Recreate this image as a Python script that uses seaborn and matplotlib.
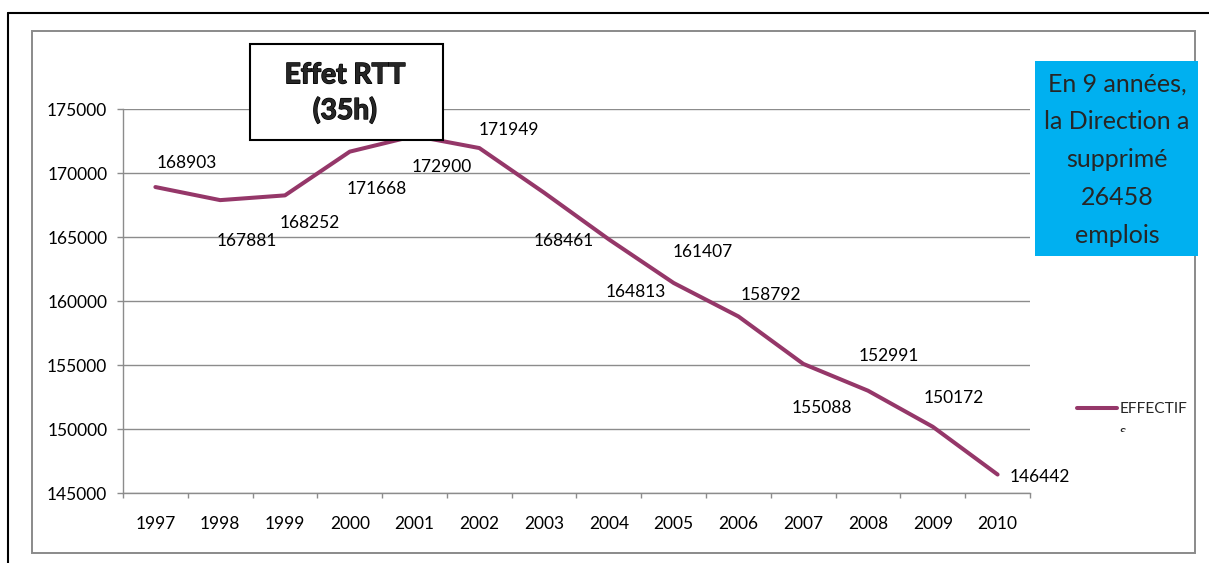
import numpy as np
import pandas as pd
import matplotlib
matplotlib.use("Agg")
import matplotlib.pyplot as plt
from matplotlib.patches import Rectangle
from matplotlib.lines import Line2D
from matplotlib.transforms import Bbox
import matplotlib.patheffects as pe
import seaborn as sns

# ---- data ----
years = ["1997", "1998", "1999", "2000", "2001", "2002", "2003",
         "2004", "2005", "2006", "2007", "2008", "2009", "2010"]
effectifs = [168903, 167881, 168252, 171668, 172900, 171949, 168461,
             164813, 161407, 158792, 155088, 152991, 150172, 146442]
y_ticks = [145000, 150000, 155000, 160000, 165000, 170000, 175000]
series_name = "EFFECTIF"
box_title = ["Effet RTT", "(35h)"]
box_note = ["En 9 années,", "la Direction a", "supprimé", "26458", "emplois"]

# label offsets (pixels: right, down to text centre)
label_offsets_px = [(31, -25), (27, 40), (25, 27), (27, 36), (27, 30), (30, -19),
                    (20, 47), (27, 52), (29, -32), (32, -22), (19, 43), (21, -36),
                    (21, -30), (42, 1)]

W, H = 1209, 563
sns.set_style("white")
plt.rcParams["font.family"] = ["Lato", "DejaVu Sans"]

fig = plt.figure(figsize=(W / 100, H / 100), dpi=100)
fig.patch.set_facecolor("white")

def fx(px):
    return px / W

def fy(py):
    return 1 - py / H

ax = fig.add_axes([fx(123), fy(493), fx(1030) - fx(123), fy(109) - fy(493)])

df = pd.DataFrame({"year": years, "value": effectifs, "idx": np.arange(len(years))})
line_color = "#953769"
sns.lineplot(data=df, x="idx", y="value", ax=ax, color=line_color, linewidth=2.9,
             label=series_name, zorder=3)

FS = 12.5
ax.set_xlim(-0.5, len(years) - 0.5)
ax.set_ylim(y_ticks[0], y_ticks[-1])
ax.set_yticks(y_ticks)
ax.set_yticklabels([str(t) for t in y_ticks])
ax.set_xticks(np.arange(-0.5, len(years), 1.0))
ax.set_xticklabels([])
ax.set_xticks(np.arange(len(years)), minor=True)
ax.set_xticklabels(years, minor=True)
ax.set_xlabel("")
ax.set_ylabel("")

grey = "#8c8c8c"
ax.yaxis.grid(True, color=grey, linewidth=1.0)
ax.xaxis.grid(False)
for s in ["top", "right"]:
    ax.spines[s].set_visible(False)
for s in ["left", "bottom"]:
    ax.spines[s].set_color(grey)
    ax.spines[s].set_linewidth(1.0)
ax.tick_params(axis="y", which="major", direction="out", length=4.3, width=1,
               color=grey, pad=7, labelsize=FS, labelcolor="black", left=True)
ax.tick_params(axis="x", which="major", direction="out", length=3.6, width=1,
               color=grey, bottom=True)
ax.tick_params(axis="x", which="minor", length=0, pad=16.5, labelsize=FS,
               labelcolor="black")

# data labels
for i, (v, (dx, dy)) in enumerate(zip(effectifs, label_offsets_px)):
    ax.annotate(str(v), xy=(i, v), xytext=(dx / 1.389, -(dy + 6) / 1.389),
                textcoords="offset points", ha="center", va="baseline",
                fontsize=FS, color="black", zorder=4, annotation_clip=False)

# legend
leg = ax.legend(loc="center left", bbox_to_anchor=(fx(1077), fy(409)),
                bbox_transform=fig.transFigure, frameon=False, fontsize=11.2,
                handlelength=2.55, handletextpad=0.2, borderpad=0, borderaxespad=0)
for h in leg.get_lines():
    h.set_linewidth(2.9)
s_txt = fig.text(fx(1120), fy(436), "s", fontsize=11.2, va="baseline", ha="left")
s_txt.set_clip_box(Bbox([[1100, H - 432], [W, H - 420]]))
s_txt.set_clip_on(True)

# frames
fig.add_artist(Line2D([fx(8), fx(8)], [fy(13), 0], color="black", lw=1.5,
                      transform=fig.transFigure))
fig.add_artist(Line2D([fx(8), 1], [fy(13), fy(13)], color="black", lw=1.5,
                      transform=fig.transFigure))
fig.add_artist(Rectangle((fx(32), fy(553)), fx(1195) - fx(32), fy(31) - fy(553),
                         transform=fig.transFigure, fill=False, edgecolor="#8a8a8a",
                         lw=1.4, zorder=1))

# Effet RTT box
fig.add_artist(Rectangle((fx(250), fy(140)), fx(443) - fx(250), fy(44) - fy(140),
                         transform=fig.transFigure, facecolor="white",
                         edgecolor="black", lw=1.5, zorder=5))
for txt, base in zip(box_title, [83.3, 119]):
    fig.text(fx(345), fy(base), txt, ha="center", va="baseline", fontsize=20.3,
             fontweight="bold", zorder=6,
             path_effects=[pe.withStroke(linewidth=1.0, foreground="black")])

# blue note box
fig.add_artist(Rectangle((fx(1035), fy(256)), fx(1198) - fx(1035), fy(61) - fy(256),
                         transform=fig.transFigure, facecolor="#00B0F0",
                         edgecolor="none", zorder=5))
for k, txt in enumerate(box_note):
    fig.text(fx(1117), fy(91.7 + 37.7 * k), txt, ha="center", va="baseline",
             fontsize=18, zorder=6)

fig.savefig("out.png", dpi=100, facecolor="white")
